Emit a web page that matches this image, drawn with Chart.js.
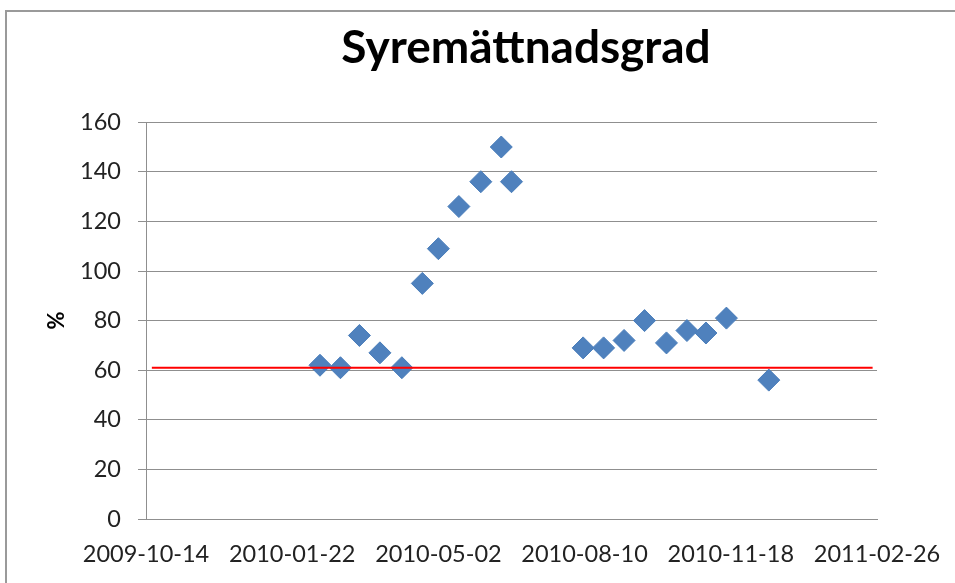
<!DOCTYPE html>
<html>
<head>
<meta charset="utf-8">
<title>Syremättnadsgrad</title>
<script src="https://cdn.jsdelivr.net/npm/chart.js@4/dist/chart.umd.min.js"></script>
<style>
  html, body { margin: 0; padding: 0; background: #fff; }
  canvas { display: block; }
</style>
</head>
<body>
<canvas id="chart" width="955" height="583"></canvas>
<script>
// Data
const startDate = '2009-10-14';
const sampleDates = [
  '2010-02-10', '2010-02-24', '2010-03-09', '2010-03-23', '2010-04-07',
  '2010-04-21', '2010-05-02', '2010-05-16', '2010-05-31', '2010-06-14',
  '2010-06-21', '2010-08-09', '2010-08-23', '2010-09-06', '2010-09-20',
  '2010-10-05', '2010-10-19', '2010-11-01', '2010-11-15', '2010-12-14'
];
const saturation = [62, 61, 74, 67, 61, 95, 109, 126, 136, 150, 136, 69, 69, 72, 80, 71, 76, 75, 81, 56];

// red limit line
const limitDates = ['2009-10-18', '2011-02-23'];
const limitValue = [61, 61];

// axis ranges (days from startDate on x)
const xMax = 500;
const xStep = 100;
const yMax = 160;
const yStep = 20;

const DAY = 24 * 3600 * 1000;
function toDays(s) {
  return Math.round((Date.parse(s) - Date.parse(startDate)) / DAY);
}
function fromDays(d) {
  return new Date(Date.parse(startDate) + d * DAY).toISOString().slice(0, 10);
}

const points = sampleDates.map((d, i) => ({ x: toDays(d), y: saturation[i] }));
const limit = limitDates.map((d, i) => ({ x: toDays(d), y: limitValue[i] }));

// white background + the outer frame of the chart object
const framePlugin = {
  id: 'frame',
  beforeDraw(chart) {
    const ctx = chart.ctx;
    ctx.save();
    ctx.fillStyle = '#fff';
    ctx.fillRect(0, 0, chart.width, chart.height);
    ctx.strokeStyle = '#9a9a9a';
    ctx.lineWidth = 2;
    ctx.beginPath();
    ctx.moveTo(6, chart.height);
    ctx.lineTo(6, 11);
    ctx.lineTo(chart.width, 11);
    ctx.stroke();
    ctx.restore();
  }
};

// Excel centres the title a bit right of the canvas middle
const titleShift = {
  id: 'titleShift',
  afterLayout(chart) {
    const t = chart.titleBlock;
    if (t) { t.left = 97; t.right = chart.width; }
  }
};

const gridColor = '#8f8f8f';
const tickFont = { family: 'Lato', size: 23.5 };

new Chart(document.getElementById('chart'), {
  type: 'scatter',
  data: {
    datasets: [
      {
        label: 'Gräns',
        data: limit,
        showLine: true,
        borderColor: '#ff0000',
        borderWidth: 2,
        pointRadius: 0,
        order: 0
      },
      {
        label: 'Syremättnadsgrad',
        data: points,
        pointStyle: 'rectRot',
        pointRadius: 11,
        backgroundColor: '#4f81bd',
        borderColor: '#4a7ebb',
        borderWidth: 1,
        order: 1
      }
    ]
  },
  options: {
    responsive: false,
    animation: false,
    layout: { padding: 0 },
    plugins: {
      legend: { display: false },
      tooltip: { enabled: false },
      title: {
        display: true,
        text: 'Syremättnadsgrad',
        color: '#000',
        font: { family: 'Lato', size: 46, weight: 'bold' },
        padding: { top: 21, bottom: 46 }
      }
    },
    scales: {
      x: {
        type: 'linear',
        min: 0,
        max: xMax,
        grid: { display: false, drawTicks: false },
        border: { display: true, color: gridColor, width: 1 },
        ticks: {
          stepSize: xStep,
          padding: 21,
          color: '#222',
          font: tickFont,
          maxRotation: 0,
          callback: v => fromDays(v)
        },
        afterFit(scale) {
          scale.height = 64;
          scale.paddingLeft = 0;
          scale.paddingRight = 78;
        }
      },
      y: {
        min: 0,
        max: yMax,
        grid: { color: gridColor, lineWidth: 1, tickLength: 8 },
        border: { display: true, color: gridColor, width: 1 },
        ticks: { stepSize: yStep, padding: 17, color: '#222', font: tickFont },
        title: {
          display: true,
          text: '%',
          color: '#000',
          font: { family: 'Lato', size: 22, weight: 'bold' },
          padding: { top: 44, bottom: 0 }
        },
        afterFit(scale) { scale.width = 146; }
      }
    }
  },
  plugins: [framePlugin, titleShift]
});
</script>
</body>
</html>
